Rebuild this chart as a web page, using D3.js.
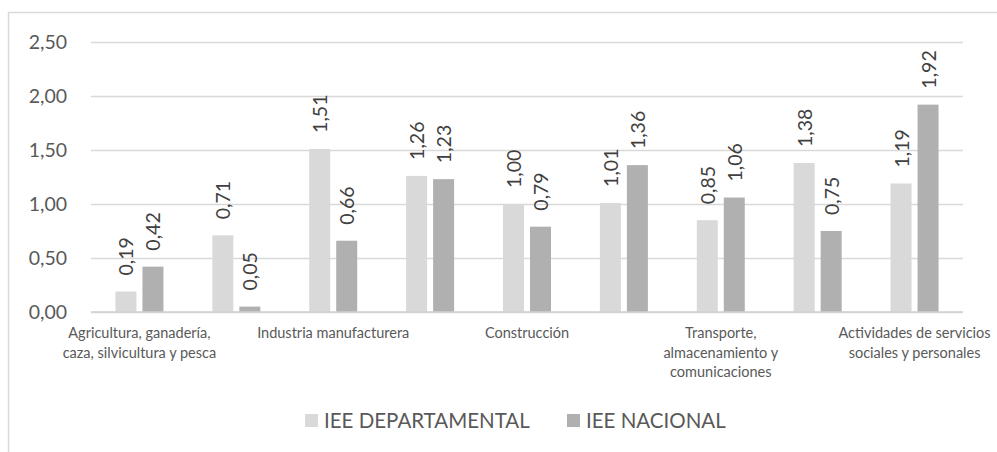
<!DOCTYPE html>
<html>
<head>
<meta charset="utf-8">
<script src="https://cdn.jsdelivr.net/npm/d3@7"></script>
<style>
  html, body { margin: 0; padding: 0; background: #fff; }
  svg { display: block; font-family: Lato, "Open Sans", sans-serif; }
</style>
</head>
<body>
<svg id="chart" width="997" height="452"></svg>
<script>
// ---- data ----
const categories = [
  "Agricultura, ganadería, caza, silvicultura y pesca",
  "Explotación de minas y canteras",
  "Industria manufacturera",
  "Electricidad, gas y agua",
  "Construcción",
  "Comercio, reparación, restaurantes y hoteles",
  "Transporte, almacenamiento y comunicaciones",
  "Establecimientos financieros, seguros y servicios a las empresas",
  "Actividades de servicios sociales y personales"
];
// wrapped axis labels as shown (only every other category label is visible)
const categoryLabelLines = [
  ["Agricultura, ganadería,", "caza, silvicultura y pesca"],
  [],
  ["Industria manufacturera"],
  [],
  ["Construcción"],
  [],
  ["Transporte,", "almacenamiento y", "comunicaciones"],
  [],
  ["Actividades de servicios", "sociales y personales"]
];
const seriesNames = ["IEE DEPARTAMENTAL", "IEE NACIONAL"];
const ieeDepartamental = [0.19, 0.71, 1.51, 1.26, 1.00, 1.01, 0.85, 1.38, 1.19];
const ieeNacional      = [0.42, 0.05, 0.66, 1.23, 0.79, 1.36, 1.06, 0.75, 1.92];
const yTicks = [0, 0.5, 1.0, 1.5, 2.0, 2.5];
const colors = ["#d9d9d9", "#b0b0b0"];

const seriesValues = [ieeDepartamental, ieeNacional];
const fmt = v => d3.format(".2f")(v).replace(".", ",");

const svg = d3.select("#chart");

// outer chart border
svg.append("rect")
  .attr("x", 8.5).attr("y", 12.5)
  .attr("width", 1000).attr("height", 450)
  .attr("fill", "#fff").attr("stroke", "#d9d9d9").attr("stroke-width", 1.5);

const plot = { left: 91, right: 963, top: 42, bottom: 312 };

const x = d3.scaleBand().domain(d3.range(categories.length))
  .range([plot.left, plot.right]).paddingInner(0).paddingOuter(0);
const bw = x.bandwidth();
const x1 = d3.scaleBand().domain(d3.range(seriesNames.length))
  .range([bw / 2 - 24, bw / 2 + 24]).paddingInner(0.222).paddingOuter(0);
const y = d3.scaleLinear().domain([0, 2.5]).range([plot.bottom, plot.top]);

// gridlines + tick labels
const yAxis = d3.axisLeft(y).tickValues(yTicks).tickSize(-(plot.right - plot.left)).tickFormat(fmt).tickPadding(24);
const gy = svg.append("g").attr("transform", `translate(${plot.left},0)`).call(yAxis);
gy.select(".domain").remove();
gy.selectAll(".tick line").attr("stroke", "#d9d9d9").attr("stroke-width", 1.5);
gy.selectAll(".tick text")
  .attr("fill", "#595959").attr("font-size", 19.5).attr("font-family", "Lato, sans-serif");

// bars
const gCat = svg.append("g").selectAll("g")
  .data(d3.range(categories.length)).join("g")
  .attr("transform", i => `translate(${x(i)},0)`);

gCat.selectAll("rect")
  .data(i => seriesValues.map((s, k) => ({ k, v: s[i] }))).join("rect")
  .attr("x", d => x1(d.k))
  .attr("width", x1.bandwidth())
  .attr("y", d => y(d.v))
  .attr("height", d => y(0) - y(d.v))
  .attr("fill", d => colors[d.k]);

// data labels (rotated)
gCat.selectAll("text.lbl")
  .data(i => seriesValues.map((s, k) => ({ k, v: s[i] }))).join("text")
  .attr("class", "lbl")
  .attr("transform", d => `translate(${x1(d.k) + x1.bandwidth() / 2},${y(d.v) - 16}) rotate(-90)`)
  .attr("text-anchor", "start")
  .attr("dominant-baseline", "central")
  .attr("fill", "#404040")
  .attr("font-size", 19.5)
  .text(d => fmt(d.v));

// baseline
svg.append("line")
  .attr("x1", plot.left).attr("x2", plot.right)
  .attr("y1", y(0)).attr("y2", y(0))
  .attr("stroke", "#d0d0d0").attr("stroke-width", 1.5);

// category labels
const gLab = svg.append("g");
categoryLabelLines.forEach((lines, i) => {
  const t = gLab.append("text")
    .attr("text-anchor", "middle")
    .attr("fill", "#595959")
    .attr("font-size", 14.5);
  lines.forEach((ln, j) => {
    t.append("tspan")
      .attr("x", x(i) + bw / 2)
      .attr("y", 338 + j * 19.5)
      .text(ln);
  });
});

// legend
const legendItems = [
  { name: seriesNames[0], color: colors[0], x: 305 },
  { name: seriesNames[1], color: colors[1], x: 567 }
];
const gLeg = svg.append("g");
legendItems.forEach(it => {
  gLeg.append("rect").attr("x", it.x).attr("y", 414).attr("width", 13).attr("height", 13).attr("fill", it.color);
  gLeg.append("text").attr("x", it.x + 19).attr("y", 427.5)
    .attr("fill", "#595959").attr("font-size", 20.5).text(it.name);
});
</script>
</body>
</html>
